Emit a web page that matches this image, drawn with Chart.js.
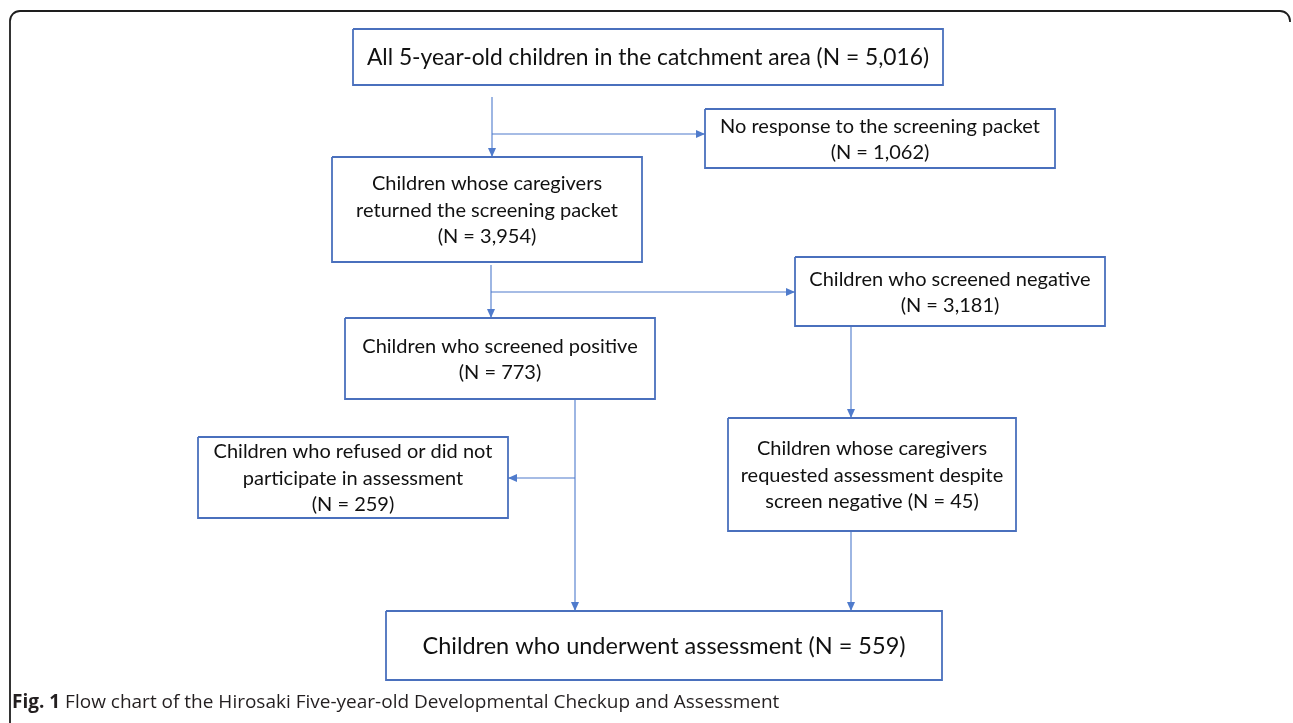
<!DOCTYPE html>
<html>
<head>
<meta charset="utf-8">
<script src="https://cdn.jsdelivr.net/npm/chart.js@4.4.1/dist/chart.umd.min.js"></script>
<style>
html,body{margin:0;padding:0;background:#fff;overflow:hidden}
#wrap{position:relative;width:1293px;height:723px}
canvas{display:block}
</style>
</head>
<body>
<div id="wrap"><canvas id="c" width="1293" height="723"></canvas></div>
<script>
// ---------------- data ----------------
const nodeNames  = ['all', 'noResponse', 'returned', 'negative', 'positive', 'refused', 'requested', 'assessed'];
const nodeCounts = [5016, 1062, 3954, 3181, 773, 259, 45, 559];
const nodeLines  = [
  ['All 5-year-old children in the catchment area ({n})'],
  ['No response to the screening packet', '({n})'],
  ['Children whose caregivers', 'returned the screening packet', '({n})'],
  ['Children who screened negative', '({n})'],
  ['Children who screened positive', '({n})'],
  ['Children who refused or did not', 'participate in assessment', '({n})'],
  ['Children whose caregivers', 'requested assessment despite', 'screen negative ({n})'],
  ['Children who underwent assessment ({n})']
];
const captionBold = 'Fig. 1';
const captionText = ' Flow chart of the Hirosaki Five-year-old Developmental Checkup and Assessment';

// layout of the flow chart in axis units: [left, top, right, bottom]
const nodeFrames = [
  [353, 29, 943, 85],
  [705, 109, 1055, 168],
  [332, 157, 642, 262],
  [795, 257, 1105, 326],
  [345, 318, 655, 399],
  [198, 437, 508, 518],
  [728, 418, 1016, 531],
  [386, 611, 942, 680]
];
const nodeFontSize = [22.8, 20, 20, 20, 20, 20, 20, 23.5];
// connectors: from point -> to point (arrowhead at the "to" end)
const connectorFrom = [[492, 97], [492, 134], [491, 265], [491, 292], [851, 326], [575, 399], [575, 478], [851, 531]];
const connectorTo   = [[492, 157], [705, 134], [491, 318], [795, 292], [851, 418], [575, 611], [508, 478], [851, 611]];

// ---------------- build datasets ----------------
const BOX_COLOR = '#4a70bd';
const LINE_COLOR = '#4f7bcc';

const datasets = [];
nodeFrames.forEach((f, i) => {
  const [l, t, r, b] = f;
  datasets.push({
    label: nodeNames[i],
    data: [{x: l, y: t}, {x: r, y: t}, {x: r, y: b}, {x: l, y: b}, {x: l, y: t}],
    showLine: true, borderColor: BOX_COLOR, borderWidth: 1.8, pointRadius: 0,
    fill: false, tension: 0, borderJoinStyle: 'miter', clip: false
  });
});
connectorFrom.forEach((p, i) => {
  const q = connectorTo[i];
  datasets.push({
    label: 'arrow' + i,
    data: [{x: p[0], y: p[1]}, {x: q[0], y: q[1]}],
    showLine: true, borderColor: LINE_COLOR, borderWidth: 1.1, pointRadius: 0,
    fill: false, tension: 0, clip: false
  });
});

const fmt = n => 'N = ' + n.toLocaleString('en-US');

const flowPlugin = {
  id: 'flowPlugin',
  beforeDatasetsDraw(chart) {
    const ctx = chart.ctx, xs = chart.scales.x, ys = chart.scales.y;
    // outer figure frame
    ctx.save();
    ctx.strokeStyle = '#1e1e1e';
    ctx.lineWidth = 1.8;
    const L = xs.getPixelForValue(10), T = ys.getPixelForValue(11), R = xs.getPixelForValue(1290);
    const rad = 10;
    ctx.beginPath();
    ctx.moveTo(L, ys.getPixelForValue(723));
    ctx.lineTo(L, T + rad);
    ctx.arcTo(L, T, L + rad, T, rad);
    ctx.lineTo(R - rad, T);
    ctx.arcTo(R, T, R, T + rad, rad);
    ctx.lineTo(R, T + rad + 1);
    ctx.stroke();
    ctx.restore();
  },
  afterDatasetsDraw(chart) {
    const ctx = chart.ctx, xs = chart.scales.x, ys = chart.scales.y;
    ctx.save();
    // arrowheads
    ctx.fillStyle = LINE_COLOR;
    connectorTo.forEach((q, i) => {
      const p = connectorFrom[i];
      const tx = xs.getPixelForValue(q[0]), ty = ys.getPixelForValue(q[1]);
      const sx = xs.getPixelForValue(p[0]), sy = ys.getPixelForValue(p[1]);
      const ang = Math.atan2(ty - sy, tx - sx);
      const len = 9, half = 4;
      ctx.beginPath();
      ctx.moveTo(tx, ty);
      ctx.lineTo(tx - len * Math.cos(ang) - half * Math.sin(ang), ty - len * Math.sin(ang) + half * Math.cos(ang));
      ctx.lineTo(tx - len * Math.cos(ang) + half * Math.sin(ang), ty - len * Math.sin(ang) - half * Math.cos(ang));
      ctx.closePath();
      ctx.fill();
    });
    // box texts
    ctx.fillStyle = '#111';
    ctx.textAlign = 'center';
    ctx.textBaseline = 'middle';
    nodeFrames.forEach((f, i) => {
      const [l, t, r, b] = f;
      const cx = (xs.getPixelForValue(l) + xs.getPixelForValue(r)) / 2;
      const cy = (ys.getPixelForValue(t) + ys.getPixelForValue(b)) / 2;
      const lines = nodeLines[i].map(s => s.replace('{n}', fmt(nodeCounts[i])));
      const fs = nodeFontSize[i];
      const lh = 26.5;
      ctx.font = fs + 'px Lato, "Open Sans", sans-serif';
      lines.forEach((s, k) => {
        ctx.fillText(s, cx, cy + (k - (lines.length - 1) / 2) * lh + 1);
      });
    });
    // caption
    ctx.textAlign = 'left';
    ctx.fillStyle = '#231f20';
    const capX = xs.getPixelForValue(12), capY = ys.getPixelForValue(703);
    ctx.font = 'bold 19px "Open Sans", sans-serif';
    ctx.fillText(captionBold, capX, capY);
    const w = ctx.measureText(captionBold).width;
    ctx.font = '19px "Open Sans", sans-serif';
    ctx.fillText(captionText, capX + w, capY);
    ctx.restore();
  }
};

new Chart(document.getElementById('c'), {
  type: 'scatter',
  data: { datasets },
  options: {
    responsive: false,
    animation: false,
    events: [],
    layout: { padding: 0 },
    plugins: { legend: { display: false }, tooltip: { enabled: false } },
    scales: {
      x: { type: 'linear', min: 0, max: 1293, display: false },
      y: { type: 'linear', min: 0, max: 723, reverse: true, display: false }
    }
  },
  plugins: [flowPlugin]
});
</script>
</body>
</html>
